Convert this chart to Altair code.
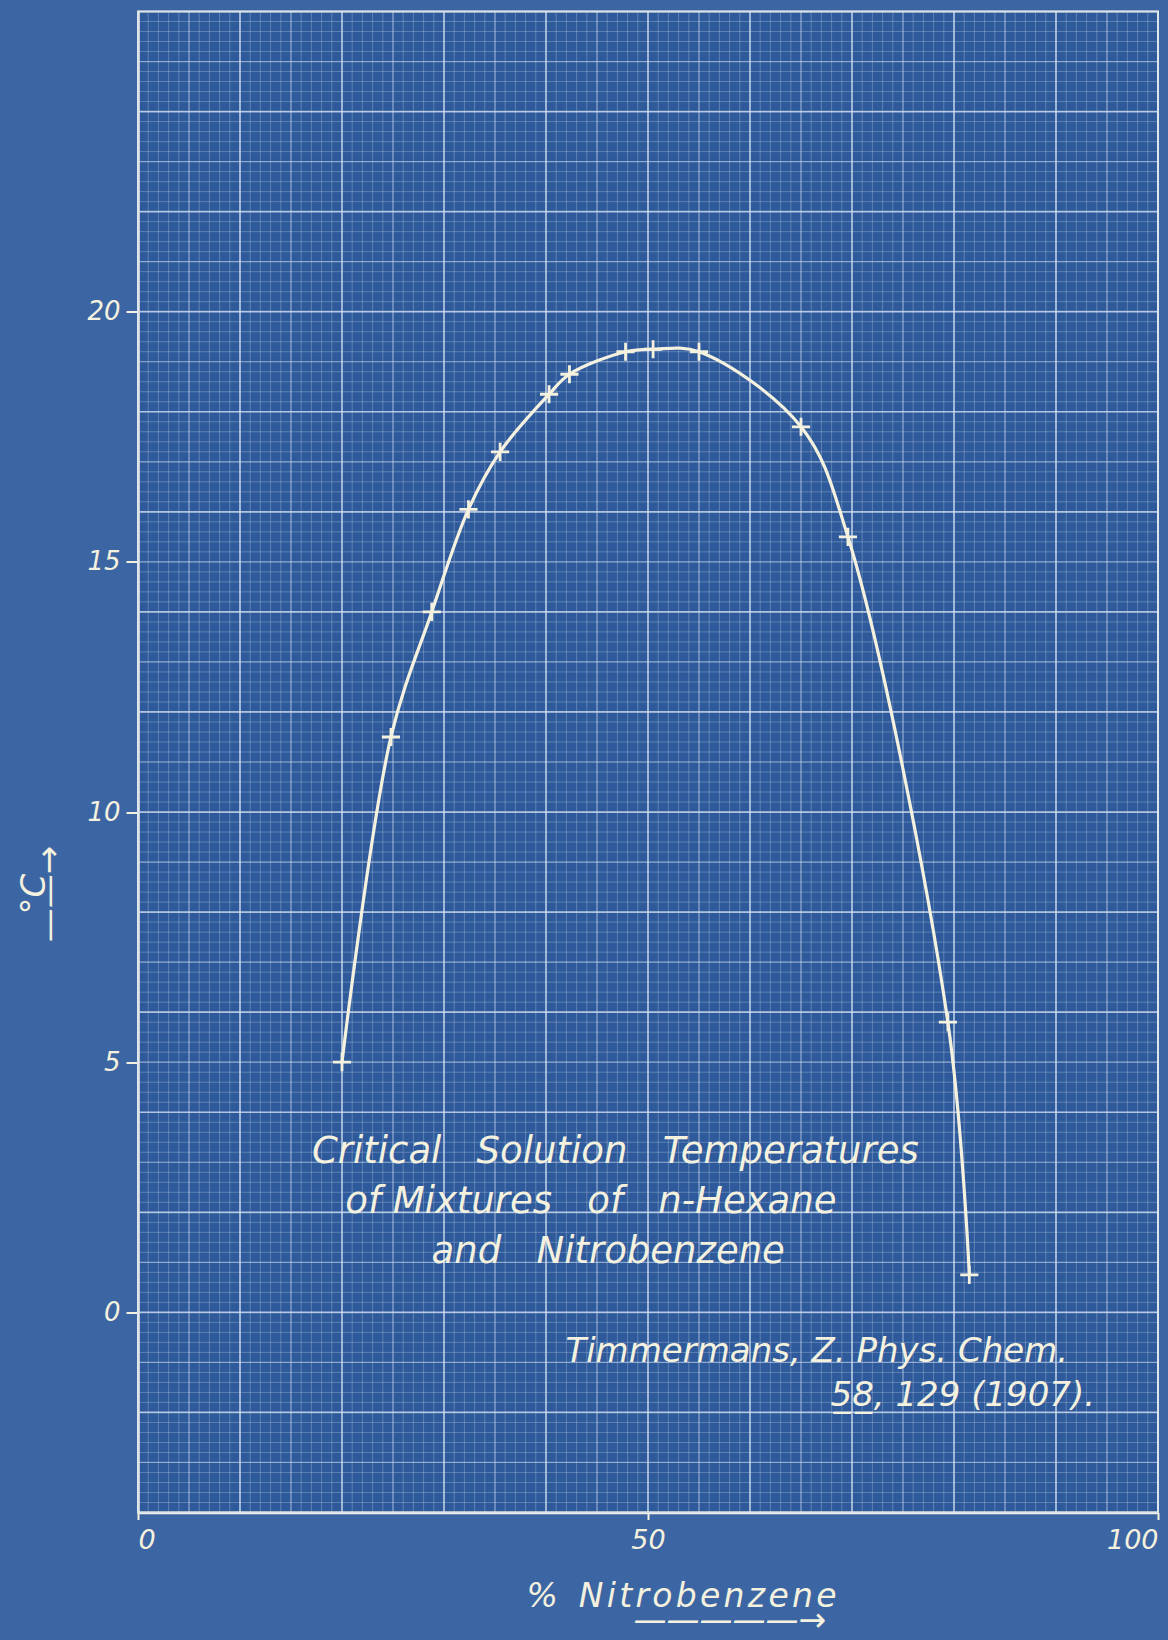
import altair as alt
import pandas as pd

# ---- data read from the blueprint ----
pct_nitro = [20.0, 24.8, 28.8, 32.4, 35.5, 40.3, 42.3, 47.8, 50.5, 55.0, 65.0, 69.6, 79.4, 81.5]
temp_c = [5.0, 11.5, 14.0, 16.05, 17.2, 18.35, 18.75, 19.2, 19.25, 19.2, 17.7, 15.5, 5.8, 0.75]

x_ticks = [0, 50, 100]
y_ticks = [0, 5, 10, 15, 20]

NB = "\u00a0"
HS = "\u200a"
G3 = NB * 3
title_lines = [f"Critical{G3}Solution{G3}Temperatures",
               f"of Mixtures{G3}of{G3}n-Hexane",
               f"and{G3}Nitrobenzene"]
title_x = [46.8, 44.4, 46.1]
title_y = [3.2, 2.2, 1.2]

cite_lines = ["Timmermans, Z. Phys. Chem.", "5\u03328\u0332, 129 (1907)."]
cite_x = [41.9, 67.9]
cite_y = [-0.8, -1.67]

x_title = "%" + NB * 2 + HS.join("Nitrobenzene")
x_arrow = "\u2800" * 4 + "—————→"

# graph-paper rulings (scale values)
minor_x = list(range(0, 101))
mid_x = list(range(0, 101, 5))
major_x = list(range(0, 101, 10))
minor_y = [round(-4 + 0.2 * i, 1) for i in range(151)]
mid_y = list(range(-4, 27))
major_y = list(range(-4, 27, 2))

CREAM = "#f5f1df"
GRID = "#d4e0f2"
FONT = "DejaVu Sans"

xscale = alt.Scale(domain=[0, 100], nice=False, zero=False)
yscale = alt.Scale(domain=[-4, 26], nice=False, zero=False)

x_axis = alt.Axis(
    values=x_ticks, grid=False, labelFlush=True,
    labelFont=FONT, labelFontSize=27, labelFontStyle="italic", labelColor=CREAM,
    labelPadding=8, tickSize=7, tickColor=CREAM, tickWidth=2,
    domainColor=CREAM, domainWidth=2.5,
    title=[x_title, x_arrow],
    titleFont=FONT, titleFontSize=33, titleFontStyle="italic", titleFontWeight="normal",
    titleColor=CREAM, titleX=543, titleY=68, titleAlign="center", titleBaseline="top",
    titleLineHeight=24,
)
y_axis = alt.Axis(
    values=y_ticks, grid=False,
    labelFont=FONT, labelFontSize=26, labelFontStyle="italic", labelColor=CREAM,
    labelPadding=6, tickSize=12, tickColor=CREAM, tickWidth=2,
    domainColor=CREAM, domainWidth=2.5,
    title=["°C", "——→"],
    titleFont=FONT, titleFontSize=34, titleFontStyle="italic", titleFontWeight="normal",
    titleColor=CREAM, titleAngle=-90, titleX=-121, titleY=882, titleAlign="center",
    titleBaseline="top", titleLineHeight=15,
)


def vrules(vals, width, op):
    return alt.Chart(pd.DataFrame({"gx": vals})).mark_rule(
        color=GRID, strokeWidth=width, opacity=op
    ).encode(x=alt.X("gx:Q", scale=xscale, axis=x_axis))


def hrules(vals, width, op):
    return alt.Chart(pd.DataFrame({"gy": vals})).mark_rule(
        color=GRID, strokeWidth=width, opacity=op
    ).encode(y=alt.Y("gy:Q", scale=yscale, axis=y_axis))


curve_df = pd.DataFrame({"pct": pct_nitro, "temp": temp_c})

line = alt.Chart(curve_df).mark_line(
    interpolate="catmull-rom", color=CREAM, strokeWidth=3.2
).encode(
    x=alt.X("pct:Q", scale=xscale, axis=x_axis),
    y=alt.Y("temp:Q", scale=yscale, axis=y_axis),
)

points = alt.Chart(curve_df).mark_point(
    shape="M-1,0L1,0M0,-1L0,1", size=330, filled=False, strokeWidth=2.8,
    color=CREAM, opacity=1
).encode(
    x=alt.X("pct:Q", scale=xscale, axis=x_axis),
    y=alt.Y("temp:Q", scale=yscale, axis=y_axis),
)

title_df = pd.DataFrame({"x": title_x, "y": title_y, "t": title_lines})
title_txt = alt.Chart(title_df).mark_text(
    font=FONT, fontSize=37, fontStyle="italic", color=CREAM, align="center", baseline="middle"
).encode(x=alt.X("x:Q", scale=xscale, axis=x_axis),
         y=alt.Y("y:Q", scale=yscale, axis=y_axis), text="t:N")

cite_df = pd.DataFrame({"x": cite_x, "y": cite_y, "t": cite_lines})
cite_txt = alt.Chart(cite_df).mark_text(
    font=FONT, fontSize=34, fontStyle="italic", color=CREAM, align="left", baseline="middle"
).encode(x=alt.X("x:Q", scale=xscale, axis=x_axis),
         y=alt.Y("y:Q", scale=yscale, axis=y_axis), text="t:N")

chart = alt.layer(
    vrules(minor_x, 0.9, 0.32),
    hrules(minor_y, 0.9, 0.32),
    vrules(mid_x, 1.2, 0.45),
    hrules(mid_y, 1.2, 0.45),
    vrules(major_x, 1.7, 0.6),
    hrules(major_y, 1.7, 0.6),
    line, points, title_txt, cite_txt,
).properties(
    width=1020, height=1501,
    background="#3c66a3",
    padding={"left": 138, "top": 11.5, "right": 10, "bottom": 127.5},
    autosize=alt.AutoSizeParams(type="none"),
).configure_view(
    fill="#2e5a9b", stroke=CREAM, strokeWidth=2
)

chart.save("out.html", embed_options={"renderer": "svg", "actions": False})
